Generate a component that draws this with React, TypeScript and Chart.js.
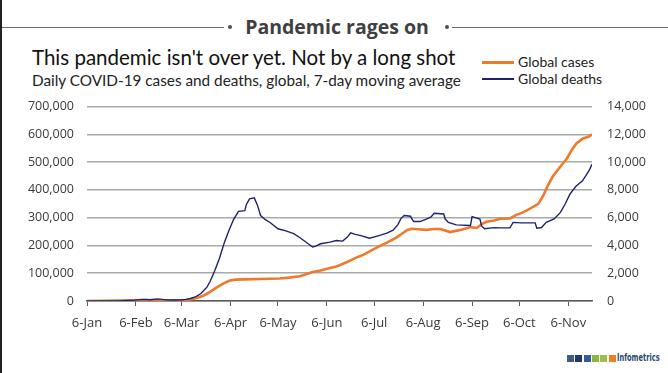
import React, { useEffect, useRef } from "react";
import { Chart, registerables } from "chart.js";

Chart.register(...registerables);

// x positions are days since 6 Jan 2020
const tickDays = [0, 31, 60, 91, 121, 152, 182, 213, 244, 274, 305];
const tickLabels = ["6-Jan", "6-Feb", "6-Mar", "6-Apr", "6-May", "6-Jun", "6-Jul", "6-Aug", "6-Sep", "6-Oct", "6-Nov"];

const caseDays = [0, 20, 35, 45, 55, 62, 66, 70, 74, 78, 82, 86, 90, 94, 100, 110, 122, 128, 135, 143, 148, 152, 158, 162, 167, 171, 175, 180, 186, 190, 196, 200, 203, 206, 210, 215, 220, 224, 230, 236, 240, 243, 247, 250, 253, 258, 262, 268, 272, 276, 281, 286, 289, 292, 295, 300, 304, 307, 310, 314, 318, 320];
const caseValues = [0, 1500, 3000, 2500, 2500, 3500, 6000, 12000, 20000, 33000, 48000, 62000, 73000, 77000, 78000, 79000, 81000, 84000, 89000, 104000, 110000, 116000, 124000, 133000, 146000, 157000, 166000, 181000, 199000, 210000, 228000, 244000, 256000, 260000, 258000, 256000, 259000, 259000, 248000, 255000, 261000, 266000, 263000, 276000, 285000, 290000, 296000, 297000, 310000, 318000, 333000, 350000, 378000, 415000, 447000, 484000, 512000, 542000, 566000, 584000, 592000, 600000];

const deathDays = [0, 20, 30, 36, 40, 45, 50, 55, 60, 63, 66, 69, 72, 74, 76, 78, 81, 84, 87, 90, 93, 96, 100, 101, 103, 106, 108, 110, 113, 116, 121, 126, 131, 135, 138, 141, 143, 145, 148, 154, 158, 162, 165, 167, 170, 173, 179, 185, 190, 194, 197, 199, 201, 205, 206, 207, 211, 215, 218, 220, 226, 227, 229, 234, 243, 244, 249, 250, 252, 258, 262, 268, 270, 275, 284, 285, 288, 291, 296, 300, 303, 306, 310, 314, 318, 320];
const deathValues = [0, 10, 60, 120, 90, 150, 80, 70, 90, 120, 200, 320, 520, 750, 1000, 1400, 2200, 3100, 4200, 5100, 5900, 6450, 6500, 6950, 7350, 7420, 6900, 6150, 5850, 5650, 5200, 5050, 4850, 4550, 4300, 4050, 3880, 3950, 4120, 4240, 4350, 4310, 4600, 4900, 4800, 4720, 4520, 4710, 4880, 5100, 5500, 5950, 6150, 6100, 5900, 5720, 5720, 5900, 6050, 6310, 6260, 5900, 5650, 5480, 5430, 6070, 5900, 5400, 5200, 5280, 5260, 5270, 5660, 5620, 5620, 5240, 5290, 5660, 5910, 6380, 6980, 7690, 8280, 8650, 9360, 9840];

const ORANGE = "#ef7a2c";
const NAVY = "#1c2270";
const TXT = "#3a3a3a";
const SANS = "'Open Sans', 'Noto Sans', sans-serif";
const TITLE_FONT = "Lato, 'Open Sans', sans-serif";

function ChartBox() {
  const ref = useRef<HTMLCanvasElement | null>(null);
  useEffect(() => {
    if (!ref.current) return;
    const chart = new Chart(ref.current, {
      type: "line",
      data: {
        datasets: [
          {
            label: "Global cases",
            data: caseDays.map((d, i) => ({ x: d, y: caseValues[i] })),
            borderColor: ORANGE,
            backgroundColor: ORANGE,
            borderWidth: 2.6,
            pointRadius: 0,
            tension: 0,
            yAxisID: "y",
            order: 1,
          },
          {
            label: "Global deaths",
            data: deathDays.map((d, i) => ({ x: d, y: deathValues[i] })),
            borderColor: NAVY,
            backgroundColor: NAVY,
            borderWidth: 1.4,
            pointRadius: 0,
            tension: 0,
            yAxisID: "y1",
            order: 0,
          },
        ],
      },
      options: {
        animation: false,
        responsive: false,
        maintainAspectRatio: false,
        layout: { padding: { top: 20, left: 0, right: 0, bottom: 0 } },
        plugins: { legend: { display: false }, tooltip: { enabled: false } },
        scales: {
          x: {
            type: "linear",
            min: 0,
            max: 320,
            afterBuildTicks: (s: any) => {
              s.ticks = tickDays.map((v) => ({ value: v }));
            },
            afterFit: (s: any) => {
              s.height = 43;
            },
            ticks: {
              autoSkip: false,
              maxRotation: 0,
              minRotation: 0,
              padding: 9,
              color: TXT,
              font: { family: SANS, size: 13 },
              callback: (_v: any, i: number) => tickLabels[i],
            },
            grid: { drawOnChartArea: false, drawTicks: true, tickLength: 5, color: "#595959", lineWidth: 1 },
            border: { display: true, color: "#595959", width: 1.5 },
          },
          y: {
            position: "left",
            min: 0,
            max: 700000,
            afterFit: (s: any) => {
              s.width = 87;
            },
            ticks: {
              stepSize: 100000,
              padding: 13,
              color: TXT,
              font: { family: SANS, size: 12.5 },
              callback: (v: any) => Number(v).toLocaleString("en-US"),
            },
            grid: { drawTicks: false, color: "#a9a9a9", lineWidth: 1.5 },
            border: { display: false },
          },
          y1: {
            position: "right",
            min: 0,
            max: 14000,
            afterFit: (s: any) => {
              s.width = 76;
            },
            ticks: {
              stepSize: 2000,
              padding: 15,
              color: TXT,
              font: { family: SANS, size: 12.5 },
              callback: (v: any) => Number(v).toLocaleString("en-US"),
            },
            grid: { display: false, drawTicks: false },
            border: { display: false },
          },
        },
      },
    });
    return () => chart.destroy();
  }, []);
  return <canvas ref={ref} width={668} height={260} style={{ position: "absolute", left: 0, top: 84, width: 668, height: 260 }} />;
}

export default function App() {
  const sq = ["#3f5b80", "#1f3a68", "#2f5d9e", "#8bb63f", "#9cc04a", "#f07d22"];
  return (
    <div style={{ position: "absolute", left: 0, top: 0, width: 668, height: 373, background: "#fff", overflow: "hidden" }}>
      <div style={{ position: "absolute", left: 0, top: 0, width: 2, height: 373, background: "#222" }} />
      <div style={{ position: "absolute", left: 2, top: 27, width: 222, height: 1, background: "#5e6c7a" }} />
      <div style={{ position: "absolute", left: 228, top: 25, width: 4, height: 4, borderRadius: 2, background: "#44505c" }} />
      <div style={{ position: "absolute", left: 232, width: 210, top: 14, textAlign: "center", fontFamily: SANS, fontWeight: 700, fontSize: 19.5, lineHeight: "26px", color: "#404040" }}>
        Pandemic rages on
      </div>
      <div style={{ position: "absolute", left: 445, top: 25, width: 4, height: 4, borderRadius: 2, background: "#44505c" }} />
      <div style={{ position: "absolute", left: 452, top: 27, width: 216, height: 1, background: "#5e6c7a" }} />

      <div style={{ position: "absolute", left: 32, top: 45, fontFamily: TITLE_FONT, fontSize: 20.5, lineHeight: "24px", color: "#111", whiteSpace: "nowrap" }}>
        This pandemic isn't over yet. Not by a long shot
      </div>
      <div style={{ position: "absolute", left: 32, top: 71, fontFamily: TITLE_FONT, fontSize: 15.3, lineHeight: "18px", color: "#222", whiteSpace: "nowrap" }}>
        Daily COVID-19 cases and deaths, global, 7-day moving average
      </div>

      <div style={{ position: "absolute", left: 482, top: 61, width: 32, height: 3, background: ORANGE }} />
      <div style={{ position: "absolute", left: 518, top: 53, fontFamily: TITLE_FONT, fontSize: 14, lineHeight: "18px", color: "#222", whiteSpace: "nowrap" }}>
        Global cases
      </div>
      <div style={{ position: "absolute", left: 482, top: 78, width: 32, height: 2, background: NAVY }} />
      <div style={{ position: "absolute", left: 518, top: 70, fontFamily: TITLE_FONT, fontSize: 14, lineHeight: "18px", color: "#222", whiteSpace: "nowrap" }}>
        Global deaths
      </div>

      <ChartBox />

      {sq.map((c, i) => (
        <div key={i} style={{ position: "absolute", left: 567 + i * 8.3, top: 355, width: 7, height: 7, background: c }} />
      ))}
      <div style={{ position: "absolute", left: 617, top: 351, fontFamily: "'DejaVu Sans Condensed', 'Liberation Sans Narrow', sans-serif", fontWeight: 700, fontSize: 11, lineHeight: "14px", color: "#2c4a70", whiteSpace: "nowrap", transform: "scaleX(0.67)", transformOrigin: "left center" }}>
        Infometrics
      </div>
    </div>
  );
}
